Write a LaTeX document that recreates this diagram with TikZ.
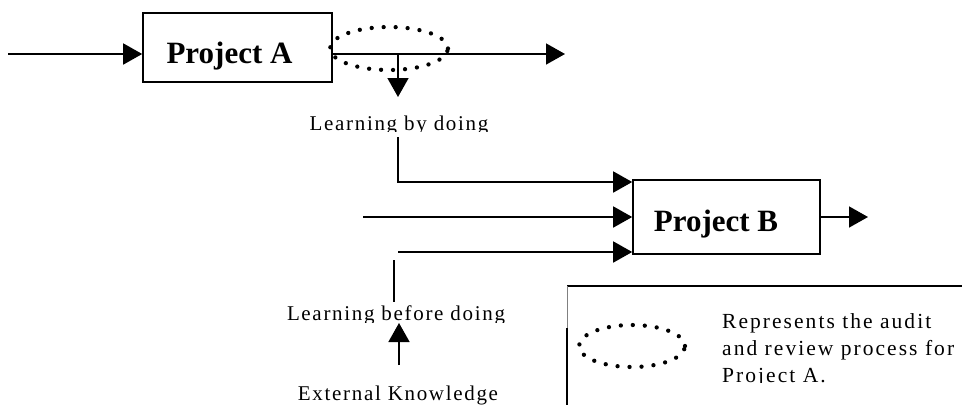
\documentclass[tikz,border=0pt]{standalone}
\usepackage{fontspec}
\setmainfont{Liberation Serif}
\newfontfamily\spacedserif[LetterSpace=8]{Liberation Serif}
\newfontfamily\legendserif[LetterSpace=9.5]{Liberation Serif}
\usetikzlibrary{arrows.meta,shapes.geometric}
\begin{document}
\begin{tikzpicture}[x=1pt,y=-1pt,
  box/.style={draw,line width=1.6pt,inner sep=0pt},
  title/.style={font=\fontsize{31}{37}\selectfont\bfseries,inner sep=0pt,anchor=base},
  lbl/.style={font=\spacedserif\fontsize{21}{27}\selectfont,inner sep=0pt,anchor=base},
  legtext/.style={font=\legendserif\fontsize{21.5}{27}\selectfont,inner sep=0pt,anchor=base west},
  conn/.style={line width=1.6pt},
  arr/.style={conn,-{Triangle[length=19pt,width=21pt]}},
  dotring/.style={ellipse,draw,inner sep=0pt,line width=4.3pt,line cap=round,dash pattern=on 0pt off 12pt}]
\useasboundingbox (0,0) rectangle (962,405);

% Project A
\node[box,minimum width=189pt,minimum height=69pt] (A) at (237.5,47.5) {};
\node[title] (Atext) at (229.5,63) {Project A};
\node[dotring,minimum width=118pt,minimum height=43pt] (audit) at (389,48.5) {};

\coordinate (inA) at (8,54);
\coordinate (outA) at (565,54);
\coordinate (split) at (398,54);
\coordinate (downTip) at (398,97);
\draw[arr] (inA) -- (inA -| A.west);
\draw[arr] (outA -| A.east) -- (outA);
\draw[arr] (split) -- (downTip);

\begin{scope}
  \clip (250,100) rectangle (560,131.5);
  \node[lbl] (lbd) at (399,130) {Learning by doing};
\end{scope}

% Project B
\node[box,minimum width=187pt,minimum height=74pt] (B) at (726.5,217) {};
\node[title] (Btext) at (716,231) {Project B};

\coordinate (lbdOut) at (398,137);
\coordinate (ext) at (363,217);
\coordinate (lbfIn) at (398,252);
\coordinate (outB) at (868,217);
\draw[arr] (lbdOut) |- ([yshift=35pt]B.west);
\draw[arr] (ext) -- (B.west);
\draw[arr] (lbfIn) -- ([yshift=-35pt]B.west);
\draw[arr] (B.east) -- (outB);

% Learning before doing
\coordinate (v1) at (394,260);
\coordinate (v2) at (394,302);
\draw[conn] (v1) -- (v2);
\begin{scope}
  \clip (250,290) rectangle (560,322);
  \node[lbl] (lbf) at (396,320) {Learning before doing};
\end{scope}
\coordinate (ekTail) at (399,365);
\coordinate (ekTip) at (399,323);
\draw[arr] (ekTail) -- (ekTip);
\node[lbl] (ek) at (398,400) {External Knowledge};

% Legend
\coordinate (legTL) at (567,286);
\coordinate (legTR) at (962,286);
\coordinate (legL1) at (567,328);
\coordinate (legBL) at (567,405);
\draw[conn] (legTL) -- (legTR);
\draw[gray,line width=0.6pt] (legTL) -- (legL1);
\draw[conn] (legL1) -- (legBL);
\node[dotring,minimum width=106pt,minimum height=42pt] (key) at (632,346) {};
\node[legtext] (leg1) at (722,328) {Represents the audit};
\node[legtext] (leg2) at (722,355) {and review process for};
\begin{scope}
  \clip (700,360) rectangle (962,382.5);
  \node[legtext] (leg3) at (722,382) {Project A.};
\end{scope}
\end{tikzpicture}
\end{document}
